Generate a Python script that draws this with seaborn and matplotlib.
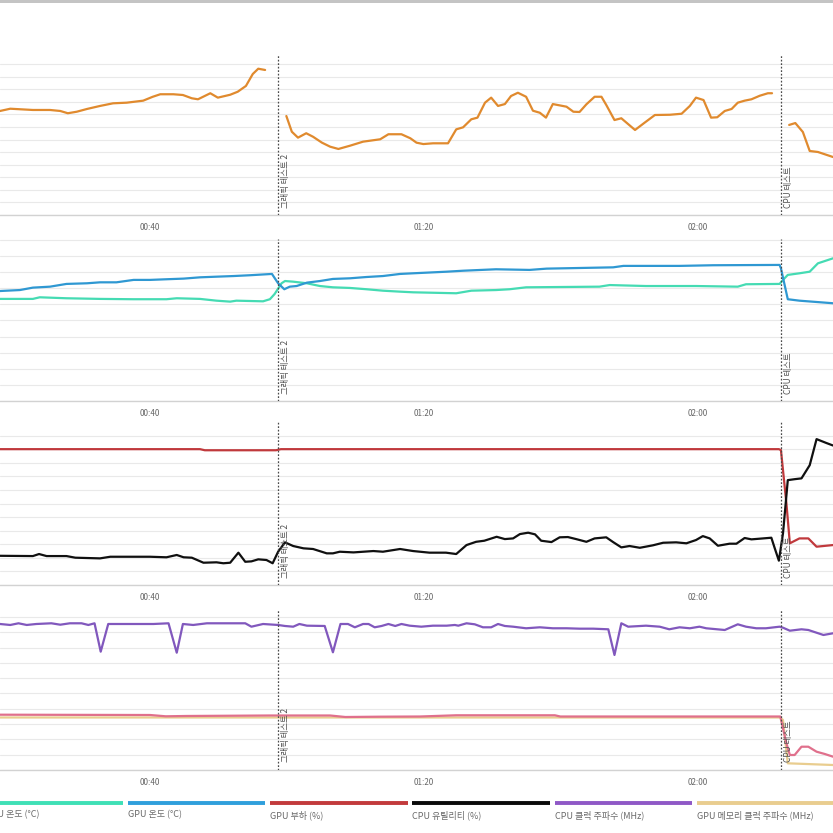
import numpy as np
import pandas as pd
import matplotlib
matplotlib.use("Agg")
import matplotlib.pyplot as plt
import matplotlib.transforms as mtransforms
from matplotlib.patches import Rectangle
import seaborn as sns

# ------------------------------------------------------------------ data
# time axis in seconds (labels mm:ss)
tick_times = [40, 80, 120]
tick_labels = ["00:40", "01:20", "02:00"]
marker_times = [58.7, 132.1]
marker_labels = ["그래픽 테스트 2", "CPU 테스트"]

# panel 1: frame rate (three test segments)
fps_t1 = [18.1, 19.6, 22.9, 25.4, 26.9, 28.0, 29.3, 30.8, 32.7, 34.6, 36.6, 39.0, 40.4, 41.5, 43.4,
          44.8, 46.1, 47.0, 48.8, 49.9, 51.7, 52.8, 54.0, 55.0, 55.8, 56.8]
fps_v1 = [82.7, 84.5, 83.5, 83.5, 82.7, 80.9, 82.1, 84.3, 86.7, 88.8, 89.3, 90.9, 94.0, 96.0, 96.0,
          95.4, 92.8, 92.0, 96.8, 93.3, 95.6, 98.0, 102.6, 112.1, 116.3, 115.3]
fps_t2 = [59.9, 60.7, 61.6, 62.8, 63.8, 65.1, 66.3, 67.5, 69.2, 71.1, 73.6, 74.8, 76.7, 78.0, 78.9,
          79.9, 81.3, 83.5, 84.7, 85.7, 86.9, 87.8, 88.9, 89.8, 90.8, 91.8, 92.7, 93.7, 94.9, 95.9,
          96.9, 97.8, 98.8, 100.8, 101.8, 102.7, 103.7, 104.9, 105.9, 106.6, 107.8, 108.8, 110.8, 112.2, 113.7,
          115.9, 117.6, 118.8, 119.7, 120.8, 121.9, 122.8, 123.9, 124.9, 125.8, 126.8, 127.8, 129.0, 130.2, 130.8]
fps_v2 = [78.7, 66.2, 61.5, 65.0, 62.2, 57.5, 54.3, 52.5, 55.1, 58.3, 60.2, 64.2, 64.2, 61.0, 57.5,
          56.4, 57.0, 57.0, 68.1, 69.7, 76.1, 77.4, 89.3, 93.3, 86.7, 88.2, 94.6, 97.2, 94.0, 82.9,
          81.3, 77.4, 88.2, 86.1, 82.1, 81.9, 88.0, 94.0, 94.0, 87.5, 75.5, 76.9, 67.6, 73.4, 79.5,
          79.7, 80.5, 86.7, 93.3, 91.4, 77.4, 77.7, 82.7, 84.3, 89.3, 90.9, 92.0, 94.8, 96.8, 96.8]
fps_t3 = [133.3, 134.2, 135.3, 136.3, 137.5, 139.7]
fps_v3 = [71.6, 73.1, 66.0, 50.9, 50.1, 46.1]

# panel 2: temperatures
gpu_temp_t = [18.1, 21.0, 22.9, 25.4, 27.8, 30.8, 32.7, 35.1, 37.6, 40.0, 42.4, 44.9, 47.3, 49.7, 52.2,
              54.6, 57.0, 57.8, 58.7, 59.6, 60.4, 61.4, 62.9, 64.8, 66.7, 69.2, 71.6, 74.0, 76.5, 78.4,
              83.3, 85.7, 90.5, 95.4, 97.9, 107.6, 109.1, 117.3, 122.2, 131.9, 132.1, 133.1, 134.8, 139.7]
gpu_temp_v = [68.3, 68.9, 70.4, 71.0, 72.7, 73.1, 73.7, 73.7, 75.2, 75.2, 75.6, 76.0, 76.8, 77.2, 77.6,
              78.1, 78.7, 78.9, 73.1, 69.4, 71.0, 71.4, 73.5, 74.5, 75.8, 76.2, 77.0, 77.6, 78.9, 79.3,
              80.3, 80.9, 81.8, 81.4, 82.2, 83.0, 83.9, 83.9, 84.3, 84.5, 82.4, 63.2, 62.3, 60.7]
cpu_temp_t = [18.1, 22.9, 23.9, 27.8, 32.7, 37.5, 42.4, 43.9, 47.3, 49.7, 51.7, 52.6, 56.5, 57.5, 58.2,
              59.2, 59.7, 60.9, 62.9, 64.8, 66.7, 69.2, 71.6, 74.0, 76.5, 78.4, 84.7, 86.9, 90.5, 92.5,
              94.9, 105.6, 107.1, 112.4, 119.7, 125.8, 127.0, 131.9, 132.4, 133.1, 134.8, 136.3, 137.5, 139.7]
cpu_temp_v = [63.4, 63.4, 64.4, 63.8, 63.4, 63.2, 63.2, 63.8, 63.4, 62.3, 61.7, 62.3, 61.9, 63.2, 66.5,
              73.1, 74.5, 74.1, 73.1, 71.4, 70.6, 70.2, 69.4, 68.5, 67.9, 67.5, 66.9, 68.5, 68.9, 69.4,
              70.6, 71.0, 72.0, 71.4, 71.4, 71.0, 72.5, 72.7, 75.2, 78.3, 79.3, 80.3, 85.5, 88.6]

# panel 3: load / utility (%)
gpu_load_t = [18.1, 47.3, 48.0, 58.4, 59.1, 131.8, 132.1, 132.9, 133.4, 134.8, 136.1, 137.3, 139.7]
gpu_load_v = [100, 100, 99.2, 99.2, 100, 100, 99.3, 60.0, 30.7, 34.3, 34.3, 28.2, 29.4]
cpu_util_t = [18.1, 22.9, 23.8, 24.9, 27.8, 29.1, 32.7, 34.2, 37.6, 40.0,
              42.4, 43.9, 44.9, 46.1, 47.8, 49.7, 50.7, 51.7, 52.9, 53.9,
              54.8, 55.8, 57.0, 57.9, 58.7, 59.7, 60.9, 62.4, 63.8, 65.8,
              66.7, 67.7, 69.7, 72.6, 74.0, 76.5, 78.4, 80.8, 83.2, 84.7,
              86.2, 87.6, 88.8, 90.6, 91.8, 93.0, 94.0, 95.2, 96.2, 97.1,
              98.6, 99.8, 101.0, 102.2, 103.7, 104.9, 106.6, 107.6, 108.8, 110.0,
              111.5, 113.4, 114.9, 116.8, 118.3, 119.7, 120.7, 121.7, 122.9, 124.6,
              125.6, 126.8, 127.8, 129.5, 130.7, 131.2, 131.8, 132.4, 133.1, 134.1,
              135.1, 136.3, 137.3, 138.7, 139.7]
cpu_util_v = [21.5, 21.3, 22.8, 21.3, 21.3, 20.1, 19.6, 20.8, 20.8, 20.8,
              20.4, 22.1, 20.4, 20.1, 16.4, 16.7, 16.0, 16.4, 23.8, 17.1,
              17.4, 18.9, 18.4, 16.0, 24.5, 31.4, 28.7, 27.0, 26.5, 23.3,
              23.3, 24.5, 24.0, 25.0, 24.5, 26.5, 25.0, 23.8, 23.8, 22.8,
              29.4, 31.8, 32.6, 35.5, 33.8, 34.3, 37.5, 38.5, 37.3, 32.6,
              31.6, 35.1, 35.3, 33.8, 31.8, 34.3, 35.1, 31.6, 27.7, 28.7,
              27.4, 29.2, 31.1, 31.4, 30.7, 33.1, 36.0, 34.3, 28.9, 30.4,
              30.4, 34.6, 33.6, 34.3, 34.8, 27.0, 17.9, 38.0, 77.2, 77.9,
              78.5, 88.2, 107.4, 104.6, 102.7]

# panel 4: clocks (MHz)
cpu_clk_t = [18.1, 19.6, 20.8, 22.0, 23.4, 25.6, 26.9, 28.3, 30.0, 31.0,
             31.9, 32.8, 33.9, 36.6, 39.0, 40.5, 42.7, 43.9, 44.8, 46.3,
             48.3, 52.1, 53.9, 54.8, 56.5, 58.7, 59.7, 60.9, 61.8, 62.9,
             65.5, 66.7, 67.8, 68.9, 69.9, 71.1, 71.9, 72.8, 73.8, 74.8,
             75.8, 76.7, 77.9, 79.6, 81.3, 83.3, 84.5, 85.0, 86.2, 87.4,
             88.6, 89.8, 90.8, 91.8, 93.0, 94.9, 96.9, 98.8, 100.8, 102.7,
             104.7, 106.9, 107.8, 108.8, 109.8, 112.4, 114.4, 115.8, 117.3, 118.8,
             120.2, 121.2, 123.9, 125.8, 127.0, 128.5, 129.9, 131.9, 132.4, 133.4,
             135.1, 136.1, 138.3, 139.7]
cpu_clk_v = [4771, 4739, 4794, 4739, 4771, 4794, 4748, 4794, 4794, 4739,
             4794, 3866, 4771, 4771, 4771, 4771, 4794, 3833, 4771, 4739,
             4794, 4794, 4794, 4683, 4771, 4739, 4706, 4683, 4771, 4716,
             4706, 3846, 4771, 4771, 4663, 4771, 4771, 4663, 4706, 4771,
             4706, 4771, 4716, 4683, 4716, 4716, 4739, 4716, 4794, 4761,
             4663, 4663, 4771, 4706, 4683, 4631, 4663, 4631, 4631, 4618,
             4618, 4598, 3758, 4794, 4683, 4716, 4683, 4598, 4663, 4631,
             4683, 4631, 4575, 4761, 4683, 4631, 4631, 4683, 4650, 4552,
             4598, 4575, 4412, 4467]
gpu_clk_t = [18.1, 40.0, 42.3, 45.3, 57.5, 66.3, 68.5, 73.6, 79.4, 84.7, 99.1, 99.9, 132.0,
             132.9, 133.4, 134.1, 135.1, 136.1, 137.3, 138.5, 139.7]
gpu_clk_v = [1807, 1797, 1755, 1765, 1781, 1781, 1732, 1742, 1748, 1788, 1788, 1748, 1748,
             873, 490, 490, 761, 761, 598, 523, 435]
gpu_mem_t = [18.1, 132.0, 132.4, 133.1, 139.7]
gpu_mem_v = [1716, 1716, 1634, 219, 163]

legend_labels = ["CPU 온도 (°C)", "GPU 온도 (°C)", "GPU 부하 (%)",
                 "CPU 유틸리티 (%)", "CPU 클럭 주파수 (MHz)", "GPU 메모리 클럭 주파수 (MHz)"]
legend_colors = ["#3fe0b6", "#2f9fdc", "#c23a3c", "#0a0a0a", "#8f58c6", "#e9cd8f"]

# ------------------------------------------------------------------ style
sns.set_theme(style="white")
plt.rcParams["font.family"] = ["Noto Sans CJK KR", "DejaVu Sans"]

W = H = 833
fig = plt.figure(figsize=(W / 100, H / 100), dpi=100)
fig.patch.set_facecolor("white")

panels_px = [(54, 215), (239, 401), (422, 585), (609, 770)]
ylims = [(0, 128), (0, 100.6), (0, 120), (0, 5261)]
ysteps = [10, 10, 10, 500]
xlim = (18.1, 139.7)

axes = []
for (top, bot), yl, st in zip(panels_px, ylims, ysteps):
    ax = fig.add_axes([0, 1 - bot / H, 1, (bot - top) / H])
    ax.set_xlim(*xlim)
    ax.set_ylim(*yl)
    ax.set_yticks(np.arange(0, yl[1], st))
    ax.set_yticklabels([])
    ax.tick_params(axis="y", length=0)
    ax.grid(axis="y", color="#e9e9e9", lw=0.8)
    ax.grid(axis="x", visible=False)
    for s in ["left", "right", "top"]:
        ax.spines[s].set_visible(False)
    ax.spines["bottom"].set_color("#d2d2d2")
    ax.spines["bottom"].set_linewidth(1.0)
    ax.set_xticks(tick_times)
    ax.set_xticklabels(tick_labels)
    ax.tick_params(axis="x", length=3, width=0.8, color="#b5b5b5", direction="out",
                   labelsize=5.8, labelcolor="#666666", pad=2.5)
    ax.set_facecolor("none")
    axes.append(ax)

def draw(ax, t, v, color, lw=1.6):
    df = pd.DataFrame({"t": t, "v": v})
    sns.lineplot(data=df, x="t", y="v", ax=ax, color=color, lw=lw, sort=False,
                 estimator=None, legend=False)

# panel 1
for t, v in [(fps_t1, fps_v1), (fps_t2, fps_v2), (fps_t3, fps_v3)]:
    draw(axes[0], t, v, "#e08a2e")
# panel 2
draw(axes[1], cpu_temp_t, cpu_temp_v, "#45dbb3")
draw(axes[1], gpu_temp_t, gpu_temp_v, "#2f98d2")
# panel 3
draw(axes[2], gpu_load_t, gpu_load_v, "#c0393c")
draw(axes[2], cpu_util_t, cpu_util_v, "#101010")
# panel 4
draw(axes[3], gpu_mem_t, gpu_mem_v, "#e9cd8f")
draw(axes[3], gpu_clk_t, gpu_clk_v, "#e0708c")
draw(axes[3], cpu_clk_t, cpu_clk_v, "#8158bd")

for ax, (top, bot) in zip(axes, panels_px):
    ax.set_xlabel("")
    ax.set_ylabel("")
    trans = mtransforms.blended_transform_factory(ax.transData, ax.transAxes)
    for mt, ml in zip(marker_times, marker_labels):
        ax.axvline(mt, color="#4a4a4a", lw=0.9, ls=(0, (1.4, 1.4)), zorder=5)
        ax.text(mt + 0.42, 7.5 / (bot - top), ml, rotation=90, transform=trans,
                ha="left", va="bottom", fontsize=6, color="#505050", zorder=6)

# legend strip
lax = fig.add_axes([0, 0, 1, 48 / H])
lax.set_xlim(0, W)
lax.set_ylim(H, H - 48)
lax.axis("off")
pitch, barw, x0 = 142.3, 137.5, -14.5
for i, (lab, col) in enumerate(zip(legend_labels, legend_colors)):
    xs = x0 + i * pitch
    lax.plot([xs, xs + barw], [802.5, 802.5], color=col, lw=2.8, solid_capstyle="butt")
    lax.text(xs, 815, lab, fontsize=6.5, color="#6a6a6a", ha="left", va="center")

# top scroll strip
fig.add_artist(Rectangle((0, 1 - 3 / H), 1, 3 / H, transform=fig.transFigure,
                         color="#c4c4c4", lw=0))

fig.savefig("out.png", dpi=100, facecolor="white")
